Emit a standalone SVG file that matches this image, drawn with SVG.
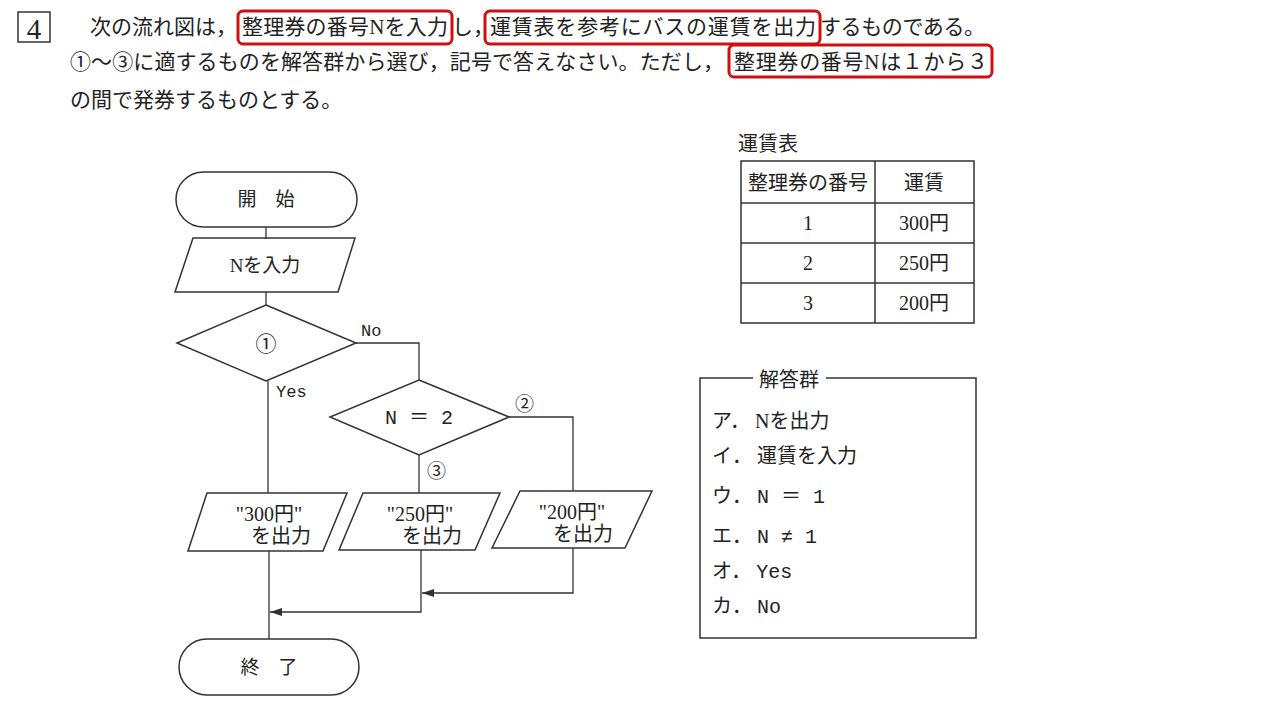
<svg xmlns="http://www.w3.org/2000/svg" width="1280" height="720" viewBox="0 0 1280 720">
<defs>
<style>
text{font-family:"Liberation Serif","Noto Sans CJK JP",serif;fill:#222;}
.q{font-size:21px;}
.n{font-size:19px;}
.mono{font-family:"Liberation Mono","Noto Sans CJK JP",monospace;}
.shape{fill:none;stroke:#333;stroke-width:1.5;}
.conn{fill:none;stroke:#333;stroke-width:1.3;}
.hl{fill:none;stroke:#d01010;stroke-width:3;}
</style>
<marker id="arr" markerWidth="12" markerHeight="8" refX="12" refY="4" orient="auto" markerUnits="userSpaceOnUse">
<path d="M0,0 L12,4 L0,8 Z" fill="#333"/>
</marker>
</defs>
<rect width="1280" height="720" fill="#fff"/>

<g id="question">
<rect x="18" y="12" width="32" height="30" fill="none" stroke="#333" stroke-width="1.5"/>
<text x="34" y="39" font-size="29" text-anchor="middle">4</text>
<text class="q" x="90" y="34">次の流れ図は，</text>
<rect class="hl" x="238" y="11" width="214" height="33" rx="5"/>
<text class="q" x="242" y="34" textLength="206">整理券の番号Nを入力</text>
<text class="q" x="452" y="34">し，</text>
<rect class="hl" x="485" y="11" width="335" height="33" rx="5"/>
<text class="q" x="490" y="34" textLength="326">運賃表を参考にバスの運賃を出力</text>
<text class="q" x="820" y="34" textLength="165">するものである。</text>
<text class="q" x="70" y="69" textLength="654">①～③に適するものを解答群から選び，記号で答えなさい。ただし，</text>
<rect class="hl" x="729" y="45" width="263" height="32" rx="5"/>
<text class="q" x="734" y="69" textLength="254">整理券の番号Nは１から３</text>
<text class="q" x="70" y="107">の間で発券するものとする。</text>
</g>

<g id="connectors">
<line class="conn" x1="266" y1="227" x2="266" y2="239"/>
<line class="conn" x1="266" y1="292" x2="266" y2="305"/>
<polyline class="conn" points="356,343 419,343 419,380"/>
<line class="conn" x1="268" y1="381" x2="268" y2="493"/>
<polyline class="conn" points="509,417 573,417 573,491"/>
<line class="conn" x1="419" y1="455" x2="419" y2="493"/>
<line class="conn" x1="269" y1="551" x2="269" y2="639"/>
<polyline class="conn" points="421,550 421,612 270,612" marker-end="url(#arr)"/>
<polyline class="conn" points="573,548 573,593 422,593" marker-end="url(#arr)"/>
<text class="mono" x="361" y="336" font-size="17">No</text>
<text class="mono" x="276" y="397" font-size="17">Yes</text>
<text x="515" y="411" font-size="19">②</text>
<text x="427" y="478" font-size="19">③</text>
</g>

<g id="start">
<rect class="shape" x="176" y="172" width="181" height="55" rx="27.5"/>
<text class="n" x="266" y="206" text-anchor="middle">開　始</text>
</g>
<g id="input">
<polygon class="shape" points="193,238 355,238 338,292 175,292"/>
<text class="n" x="265" y="272" text-anchor="middle">Nを入力</text>
</g>
<g id="decision1">
<polygon class="shape" points="266,305 356,343 266,381 177,343"/>
<text x="266" y="351" font-size="21" text-anchor="middle">①</text>
</g>
<g id="decision2">
<polygon class="shape" points="419,380 509,417 419,455 330,417"/>
<text class="mono" x="419" y="424" font-size="20" text-anchor="middle">N ＝ 2</text>
</g>
<g id="out300">
<polygon class="shape" points="207,493 347,493 323,551 188,551"/>
<text x="269" y="521" font-size="20" text-anchor="middle" font-family="Liberation Sans,Noto Sans CJK JP,sans-serif">"300円"</text>
<text x="281" y="543" font-size="20" text-anchor="middle">を出力</text>
</g>
<g id="out250">
<polygon class="shape" points="363,493 500,493 475,550 339,550"/>
<text x="420" y="521" font-size="20" text-anchor="middle" font-family="Liberation Sans,Noto Sans CJK JP,sans-serif">"250円"</text>
<text x="432" y="543" font-size="20" text-anchor="middle">を出力</text>
</g>
<g id="out200">
<polygon class="shape" points="520,491 652,491 625,548 492,548"/>
<text x="572" y="519" font-size="20" text-anchor="middle" font-family="Liberation Sans,Noto Sans CJK JP,sans-serif">"200円"</text>
<text x="583" y="541" font-size="20" text-anchor="middle">を出力</text>
</g>
<g id="end">
<rect class="shape" x="179" y="639" width="180" height="56" rx="28"/>
<text class="n" x="269" y="674" text-anchor="middle">終　了</text>
</g>

<g id="fare-table">
<text x="738" y="151" font-size="20">運賃表</text>
<rect class="shape" x="741" y="161" width="233" height="162"/>
<line class="shape" x1="875" y1="161" x2="875" y2="323"/>
<line class="shape" x1="741" y1="203" x2="974" y2="203"/>
<line class="shape" x1="741" y1="243" x2="974" y2="243"/>
<line class="shape" x1="741" y1="283" x2="974" y2="283"/>
<g font-size="20" text-anchor="middle">
<text x="808" y="190">整理券の番号</text>
<text x="924" y="190">運賃</text>
<text x="808" y="230">1</text>
<text x="924" y="230">300円</text>
<text x="808" y="270">2</text>
<text x="924" y="270">250円</text>
<text x="808" y="310">3</text>
<text x="924" y="310">200円</text>
</g>
</g>

<g id="answers">
<polyline class="shape" points="753,378 700,378 700,638 976,638 976,378 826,378"/>
<text x="789" y="387" font-size="20" text-anchor="middle">解答群</text>
<g font-size="20">
<text x="712" y="428">ア． Nを出力</text>
<text x="712" y="463">イ． 運賃を入力</text>
<text x="712" y="503">ウ． <tspan class="mono">N ＝ 1</tspan></text>
<text x="712" y="543">エ． <tspan class="mono">N ≠ 1</tspan></text>
<text x="712" y="578">オ． <tspan class="mono">Yes</tspan></text>
<text x="712" y="613">カ． <tspan class="mono">No</tspan></text>
</g>
</g>
</svg>
